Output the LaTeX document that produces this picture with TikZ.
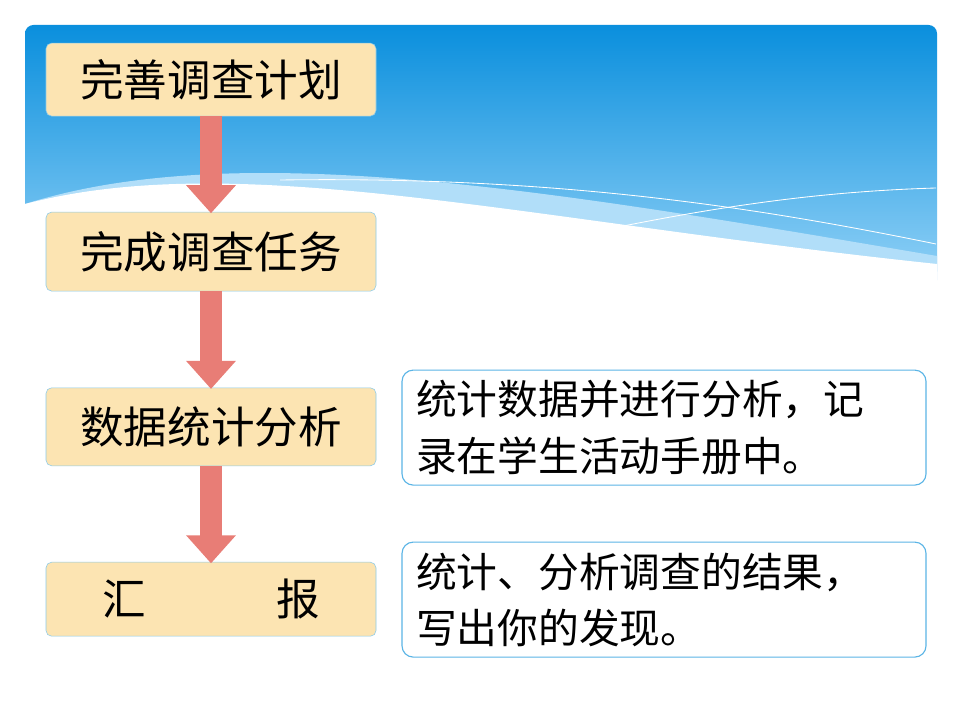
\documentclass[tikz,border=0pt]{standalone}
\usepackage{fontspec}
\newfontfamily\cjk{Noto Sans CJK SC}
\usetikzlibrary{arrows.meta}
\definecolor{stepfill}{HTML}{FCE4B2}
\definecolor{stepline}{HTML}{8CCBEA}
\definecolor{noteline}{HTML}{5BB5E6}
\definecolor{flowred}{HTML}{E87D76}
\definecolor{skytop}{HTML}{0A8FDD}
\definecolor{skylow}{HTML}{8FD0F6}
\tikzset{
  stepbox/.style={draw=stepline,fill=stepfill,rounded corners=4pt,minimum width=8.25cm,font=\cjk\fontsize{31}{34}\selectfont,inner sep=0pt},
  notebox/.style={draw=noteline,line width=0.8pt,fill=white,rounded corners=8pt,minimum width=13.1cm,minimum height=2.875cm,text width=12.4cm,align=left,font=\cjk\fontsize{29}{40}\selectfont,inner sep=0pt},
  flow/.style={draw=flowred,line width=0.55cm,-{Triangle[width=1.2cm,length=0.7cm]},shorten >=-1pt}
}
\begin{document}
\begin{tikzpicture}
\useasboundingbox (0,0) rectangle (24,18);
\fill[white] (0,0) rectangle (24,18);
% sky panel
\shade[top color=skytop,bottom color=skylow,rounded corners=6pt] (0.625,11) rectangle (23.425,17.375);
\fill[skylow!70!white] (0.625,12.9) .. controls (6,14.6) and (14,13.2) .. (23.425,11.6) -- (23.425,11) -- (0.625,11) -- cycle;
\fill[white] (0.625,12.9) .. controls (6,14.3) and (13,12.5) .. (23.425,11.4) -- (23.425,10.5) -- (0.625,10.5) -- cycle;
\draw[white,line width=0.6pt] (7,13.5) .. controls (14,13.6) and (19,12.8) .. (23.4,11.9);
\draw[white,line width=0.6pt] (13,11.8) .. controls (17,12.7) and (20,13.2) .. (23.4,13.3);
% steps
\node[stepbox,minimum height=1.825cm] (plan) at (5.275,16.01) {完善调查计划};
\node[stepbox,minimum height=1.975cm] (task) at (5.275,11.71) {完成调查任务};
\node[stepbox,minimum height=1.95cm] (stat) at (5.275,7.33) {数据统计分析};
\node[stepbox,minimum height=1.85cm] (report) at (5.275,3.02) {汇\qquad\quad 报};
\draw[flow] (plan) -- (task);
\draw[flow] (task) -- (stat);
\draw[flow] (stat) -- (report);
% notes
\node[notebox] (note1) at (16.6,7.31) {统计数据并进行分析，记\\录在学生活动手册中。};
\node[notebox] (note2) at (16.6,3.01) {统计、分析调查的结果，\\写出你的发现。};
\end{tikzpicture}
\end{document}
